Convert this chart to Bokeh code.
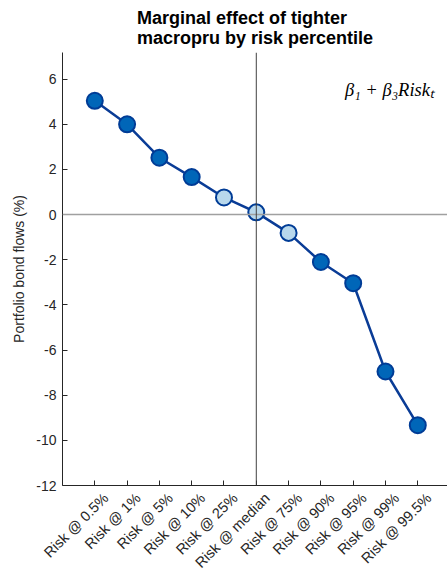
from bokeh.plotting import figure
from bokeh.models import FixedTicker, Span, Label, ColumnDataSource, Range1d, Title, LinearAxis
from bokeh.embed import file_html
from bokeh.resources import INLINE
import math

categories = ["Risk @ 0.5%", "Risk @ 1%", "Risk @ 5%", "Risk @ 10%", "Risk @ 25%",
              "Risk @ median", "Risk @ 75%", "Risk @ 90%", "Risk @ 95%", "Risk @ 99%", "Risk @ 99.5%"]
effects = [5.04, 4.00, 2.52, 1.66, 0.76, 0.10, -0.81, -2.10, -3.04, -6.95, -9.33]
significant = [True, True, True, True, False, False, False, True, True, True, True]
y_ticks = [-12, -10, -8, -6, -4, -2, 0, 2, 4, 6]
title_lines = ["Marginal effect of tighter", "macropru by risk percentile"]

XMAX = 11.92
YMIN, YMAX = -12, 7.18
LABEL_SHIFT = 0.34  # horizontal offset of the rotated category labels (style only)

xs = list(range(1, len(categories) + 1))
fills = ["#0066B8" if s else "#B8D8EC" for s in significant]
src = ColumnDataSource(dict(x=xs, y=effects, fill=fills))

p = figure(width=447, height=579, output_backend="svg", toolbar_location=None,
           x_range=Range1d(0, XMAX), y_range=Range1d(YMIN, YMAX),
           min_border_left=62, min_border_right=0, min_border_top=52, min_border_bottom=92)
p.title = None
p.outline_line_color = None
p.grid.grid_line_color = None
p.background_fill_color = "white"
p.border_fill_color = "white"

title = Title(text="\n".join(title_lines), align="center", text_font_size="18px",
              text_font_style="bold", text_font="Liberation Sans", text_color="black",
              standoff=9, text_line_height=1.02)
p.add_layout(title, "above")

p.add_layout(Span(location=0, dimension="width", line_color="#A0A0A0", line_width=1.5))
p.add_layout(Span(location=6, dimension="height", line_color="#404040", line_width=1))

p.line("x", "y", source=src, line_color="#0A3C96", line_width=2.5)
p.scatter("x", "y", source=src, size=16, fill_color="fill", line_color="#003C96", line_width=2)

# axis carrying line and ticks
p.xaxis.ticker = FixedTicker(ticks=xs)
p.xaxis.major_label_overrides = {x: "" for x in xs}
p.xaxis.major_label_text_font_size = "0px"
p.xaxis.major_label_standoff = 0
p.yaxis.ticker = FixedTicker(ticks=y_ticks)
p.yaxis.major_label_overrides = {t: str(t) for t in y_ticks}
p.yaxis.axis_label = "Portfolio bond flows (%)"

for ax in (p.xaxis[0], p.yaxis[0]):
    ax.axis_line_color = "#262626"
    ax.major_tick_line_color = "#262626"
    ax.major_tick_in = 5
    ax.major_tick_out = 0
    ax.minor_tick_line_color = None
    ax.major_label_text_font = "Liberation Sans"
    ax.major_label_text_color = "#262626"
p.yaxis.major_label_text_font_size = "14px"
p.yaxis.major_label_standoff = 6
p.yaxis.axis_label_standoff = 6
p.yaxis.axis_label_text_font = "Liberation Sans"
p.yaxis.axis_label_text_font_style = "normal"
p.yaxis.axis_label_text_font_size = "14px"
p.yaxis.axis_label_text_color = "#262626"

# axis carrying the rotated category labels
label_ticks = [x + LABEL_SHIFT for x in xs]
lab_axis = LinearAxis(ticker=FixedTicker(ticks=label_ticks),
                      major_label_overrides={t: c for t, c in zip(label_ticks, categories)},
                      major_label_orientation=math.pi / 4, axis_line_color=None,
                      major_tick_line_color=None, minor_tick_line_color=None,
                      major_label_standoff=4, major_label_text_font="Liberation Sans",
                      major_label_text_font_size="14.5px", major_label_text_color="#262626")
p.add_layout(lab_axis, "below")

p.add_layout(Label(x=11.5, y=5.5, text="β₁ + β₃Riskₜ", text_align="right",
                   text_baseline="alphabetic",
                   text_font="Liberation Serif", text_font_style="italic",
                   text_font_size="18.5px", text_color="black"))

open("out.html", "w").write(file_html(p, INLINE))
